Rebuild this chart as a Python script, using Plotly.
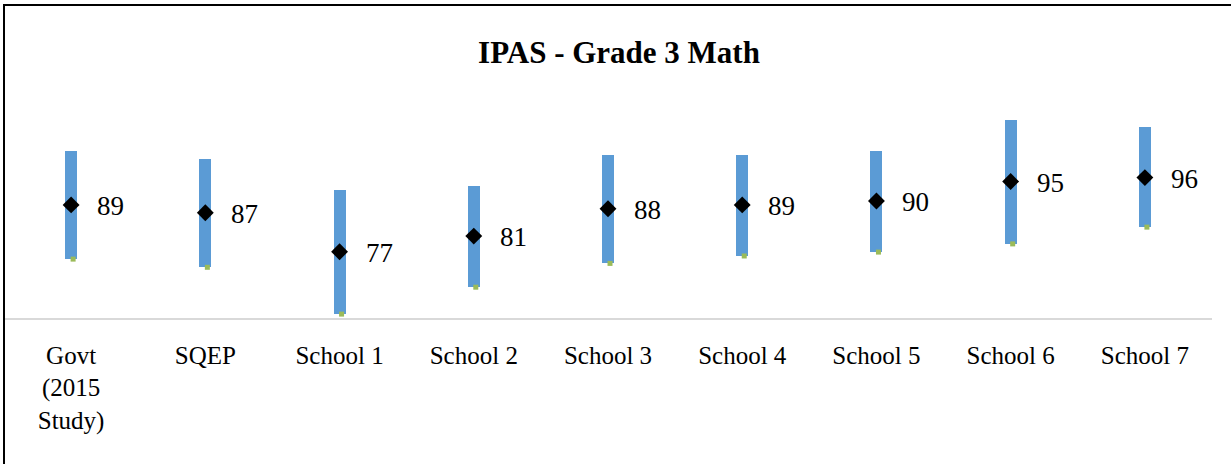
import plotly.graph_objects as go

categories = ["Govt<br>(2015<br>Study)", "SQEP", "School 1", "School 2", "School 3",
              "School 4", "School 5", "School 6", "School 7"]
means = [89, 87, 77, 81, 88, 89, 90, 95, 96]
highs = [102.7, 100.7, 92.8, 93.9, 101.8, 101.8, 102.8, 110.8, 108.9]
lows = [75.1, 73.0, 61.0, 67.9, 74.0, 75.9, 76.9, 79.0, 83.3]
mean_labels = ["89", "87", "77", "81", "88", "89", "90", "95", "96"]

BLUE = "#5B9BD5"
GREEN = "#9BBB59"
FONT = "Liberation Serif"

xs = list(range(len(categories)))
green_offset = 0.015

fig = go.Figure()
fig.add_trace(go.Bar(
    x=xs, y=[h - l for h, l in zip(highs, lows)], base=lows,
    width=0.09, marker=dict(color=BLUE, line=dict(width=0)),
    hoverinfo="skip", showlegend=False))
fig.add_trace(go.Scatter(
    x=[x + green_offset for x in xs], y=lows, mode="markers",
    marker=dict(symbol="square", size=5, color=GREEN), showlegend=False))
fig.add_trace(go.Scatter(
    x=xs, y=means, mode="markers",
    marker=dict(symbol="diamond", size=13, color="black"), showlegend=False))

for x, m, t in zip(xs, means, mean_labels):
    fig.add_annotation(x=x, y=m, text=t, showarrow=False, xanchor="left",
                       yanchor="middle", xshift=24, yshift=-1,
                       font=dict(family=FONT, size=27, color="black"))

fig.add_shape(type="rect", xref="paper", yref="paper",
              x0=0.0, x1=1.5, y0=-1.0, y1=1.338,
              line=dict(color="black", width=2), fillcolor="rgba(0,0,0,0)")

fig.update_layout(
    width=1231, height=464,
    margin=dict(l=4, r=19, t=84, b=146),
    paper_bgcolor="white", plot_bgcolor="white",
    title=dict(text="<b>IPAS - Grade 3 Math</b>", x=619/1231, xanchor="center",
               xref="container", yref="container", y=1 - 52/464, yanchor="middle",
               font=dict(family=FONT, size=31, color="black")),
    xaxis=dict(range=[-0.5, len(categories) - 0.5], tickvals=xs, ticktext=categories,
               showgrid=False, zeroline=False, showline=True, linecolor="#D9D9D9",
               linewidth=1.5, ticks="", tickfont=dict(family=FONT, size=25, color="black"),
               ticklabelstandoff=14),
    yaxis=dict(range=[60, 120], visible=False, showgrid=False, zeroline=False),
    bargap=0,
)

fig.write_html("out.html", config={"displayModeBar": False},
               post_script="document.body.style.margin='0';")
